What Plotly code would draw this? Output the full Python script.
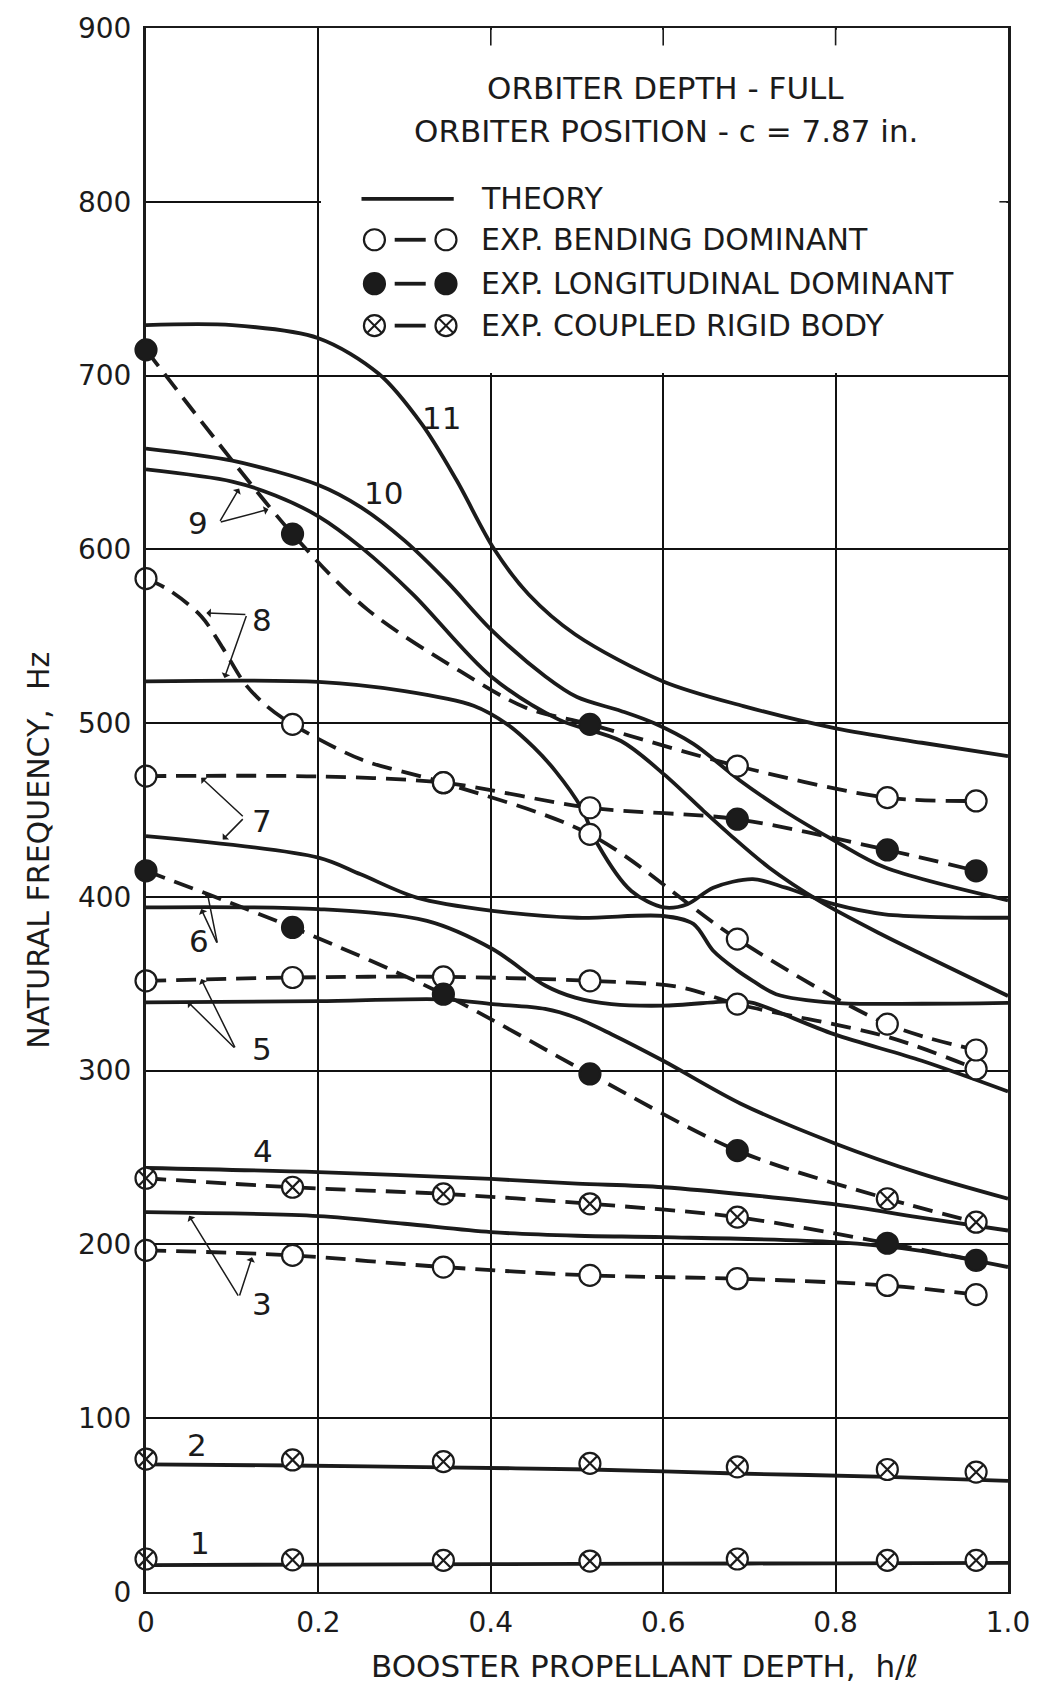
import plotly.graph_objects as go

FONT = "DejaVu Sans, Liberation Sans, sans-serif"
INK = "#1b1b1b"

# ---------------- axes ----------------
x_tick_vals = [0, 0.2, 0.4, 0.6, 0.8, 1.0]
x_tick_text = ["0", "0.2", "0.4", "0.6", "0.8", "1.0"]
y_tick_vals = [0, 100, 200, 300, 400, 500, 600, 700, 800, 900]

# ---------------- theory curves (solid) ----------------
theory_1_x = [0.0, 0.2, 0.4, 0.6, 0.8, 1.0]
theory_1_y = [15.5, 15.8, 16.0, 16.3, 16.5, 16.8]

theory_2_x = [0.0, 0.17, 0.345, 0.515, 0.685, 0.86, 1.0]
theory_2_y = [73.4, 72.8, 71.7, 70.5, 68.2, 66.3, 64.0]

theory_3_x = [0.0, 0.2, 0.3, 0.4, 0.5, 0.6, 0.8, 0.895, 1.0]
theory_3_y = [218.6, 216.3, 211.9, 207.1, 205.0, 204.2, 201.3, 196.6, 187.0]

theory_4_x = [0.0, 0.2, 0.4, 0.5, 0.6, 0.8, 0.895, 1.0]
theory_4_y = [244.0, 241.6, 237.7, 235.0, 232.9, 223.0, 215.7, 208.0]

theory_5_x = [0.0, 0.2, 0.345, 0.402, 0.463, 0.498, 0.54, 0.6, 0.69, 0.8, 0.9, 1.0]
theory_5_y = [339.3, 340.0, 341.0, 338.3, 335.5, 330.6, 321.0, 305.7, 281.0, 258.0, 240.6, 226.3]

theory_6_x = [0.0, 0.2, 0.326, 0.402, 0.463, 0.498, 0.54, 0.6, 0.685, 0.704, 0.798, 0.9, 1.0]
theory_6_y = [394.0, 393.0, 386.2, 370.0, 349.0, 342.0, 338.3, 337.4, 340.0, 339.0, 321.0, 305.7, 288.0]

theory_7_x = [0.0, 0.2, 0.249, 0.314, 0.402, 0.5, 0.6, 0.635, 0.658, 0.685, 0.704, 0.731, 0.8, 0.9, 1.0]
theory_7_y = [435.0, 422.6, 413.0, 399.6, 392.0, 388.0, 389.0, 384.5, 369.0, 358.0, 351.7, 344.0, 339.0, 338.5, 339.0]

theory_8_x = [0.0, 0.2, 0.3, 0.38, 0.42, 0.45, 0.475, 0.505, 0.524, 0.563, 0.601, 0.628,
              0.658, 0.704, 0.742, 0.798, 0.857, 1.0]
theory_8_y = [524.0, 523.7, 518.4, 510.0, 499.0, 486.0, 472.4, 451.3, 430.3, 403.4, 393.9, 395.8,
              405.3, 410.2, 405.3, 395.8, 390.0, 388.0]

theory_9_x = [0.0, 0.1, 0.15, 0.2, 0.25, 0.31, 0.4, 0.479, 0.551, 0.601, 0.647, 0.677, 0.723,
              0.781, 0.853, 0.9, 1.0]
theory_9_y = [646.0, 639.0, 631.0, 619.0, 601.0, 574.0, 527.0, 502.0, 489.7, 470.5, 449.4, 436.0,
              416.8, 397.7, 378.5, 367.0, 343.0]

theory_10_x = [0.0, 0.1, 0.2, 0.25, 0.3, 0.35, 0.4, 0.463, 0.5, 0.551, 0.589, 0.635, 0.689,
               0.742, 0.8, 0.857, 1.0]
theory_10_y = [658.0, 651.0, 637.0, 624.0, 605.0, 581.0, 554.0, 527.0, 515.0, 507.0, 500.0,
               488.0, 467.0, 449.0, 432.0, 417.0, 398.0]

theory_11_x = [0.0, 0.1, 0.2, 0.27, 0.32, 0.36, 0.404, 0.444, 0.498, 0.6, 0.693, 0.8, 0.9, 1.0]
theory_11_y = [729.0, 729.0, 721.5, 701.0, 672.0, 640.0, 600.0, 574.0, 551.0, 524.0, 509.8,
               497.0, 488.7, 481.0]

theory_curves = [
    (theory_1_x, theory_1_y), (theory_2_x, theory_2_y), (theory_3_x, theory_3_y),
    (theory_4_x, theory_4_y), (theory_5_x, theory_5_y), (theory_6_x, theory_6_y),
    (theory_7_x, theory_7_y), (theory_8_x, theory_8_y), (theory_9_x, theory_9_y),
    (theory_10_x, theory_10_y), (theory_11_x, theory_11_y),
]

# ---------------- experimental series (dashed) ----------------
# marker codes: "o" bending dominant, "f" longitudinal dominant,
# "x" coupled rigid body, "" = curve passes without a test point
exp_1_x = [0.0, 0.17, 0.345, 0.515, 0.686, 0.86, 0.963]
exp_1_y = [19.0, 18.5, 18.2, 17.8, 19.0, 18.2, 18.2]
exp_1_m = ["x", "x", "x", "x", "x", "x", "x"]

exp_2_x = [0.0, 0.17, 0.345, 0.515, 0.686, 0.86, 0.963]
exp_2_y = [76.5, 76.0, 75.0, 74.0, 72.0, 70.5, 69.0]
exp_2_m = ["x", "x", "x", "x", "x", "x", "x"]

exp_3_x = [0.0, 0.17, 0.345, 0.515, 0.686, 0.86, 0.963]
exp_3_y = [196.6, 193.7, 187.0, 182.2, 180.3, 176.4, 171.1]
exp_3_m = ["o", "o", "o", "o", "o", "o", "o"]

exp_4_x = [0.0, 0.17, 0.345, 0.515, 0.686, 0.86, 0.963]
exp_4_y = [238.1, 232.9, 229.1, 223.4, 215.7, 200.7, 190.8]
exp_4_m = ["x", "x", "x", "x", "x", "f", "f"]

exp_5_x = [0.0, 0.17, 0.345, 0.515, 0.62, 0.686, 0.86, 0.963]
exp_5_y = [351.7, 353.6, 354.0, 351.7, 348.0, 338.3, 319.5, 301.0]
exp_5_m = ["o", "o", "o", "o", "", "o", "", "o"]

exp_6_x = [0.0, 0.17, 0.345, 0.515, 0.686, 0.86, 0.963]
exp_6_y = [415.0, 382.4, 344.0, 298.1, 254.0, 226.3, 212.8]
exp_6_m = ["f", "f", "f", "f", "f", "x", "x"]

exp_7_x = [0.0, 0.2, 0.345, 0.515, 0.686, 0.86, 0.963]
exp_7_y = [469.5, 469.3, 465.7, 451.3, 444.7, 427.0, 415.0]
exp_7_m = ["o", "", "o", "o", "f", "f", "f"]

exp_8_x = [0.0, 0.0275, 0.064, 0.089, 0.115, 0.14, 0.17, 0.25, 0.345, 0.515, 0.686, 0.86, 0.963]
exp_8_y = [583.2, 576.3, 561.5, 543.3, 522.5, 509.8, 499.3, 479.0, 465.7, 436.0, 375.7, 326.8, 311.9]
exp_8_m = ["o", "", "", "", "", "", "o", "", "o", "o", "o", "o", "o"]

exp_9_x = [0.0, 0.17, 0.257, 0.364, 0.44, 0.515, 0.686, 0.86, 0.963]
exp_9_y = [714.8, 608.8, 565.3, 530.0, 509.0, 499.3, 475.3, 457.1, 455.2]
exp_9_m = ["f", "f", "", "", "", "f", "o", "o", "o"]

exp_series = [
    (exp_1_x, exp_1_y, exp_1_m), (exp_2_x, exp_2_y, exp_2_m), (exp_3_x, exp_3_y, exp_3_m),
    (exp_4_x, exp_4_y, exp_4_m), (exp_5_x, exp_5_y, exp_5_m), (exp_6_x, exp_6_y, exp_6_m),
    (exp_7_x, exp_7_y, exp_7_m), (exp_8_x, exp_8_y, exp_8_m), (exp_9_x, exp_9_y, exp_9_m),
]
# modes 1 and 2: test points lie on the theory line, no separate dashed fairing
exp_dashed = [False, False, True, True, True, True, True, True, True]

# ---------------- mode labels and leaders ----------------
mode_label_text = ["1", "2", "3", "4", "5", "6", "7", "8", "9", "10", "11"]
mode_label_x = [0.063, 0.059, 0.135, 0.136, 0.135, 0.062, 0.135, 0.135, 0.060, 0.276, 0.343]
mode_label_y = [28.0, 84.5, 166.0, 254.0, 312.5, 374.7, 443.7, 559.6, 615.0, 632.4, 675.5]

# (tail x, tail y, tip x, tip y)
leaders = [
    (0.085, 615.5, 0.108, 635.0), (0.085, 615.5, 0.142, 623.0),
    (0.117, 562.5, 0.070, 563.4), (0.117, 562.5, 0.091, 526.0),
    (0.114, 445.6, 0.064, 468.6), (0.114, 445.6, 0.089, 433.0),
    (0.083, 372.8, 0.071, 402.5), (0.083, 372.8, 0.064, 393.0),
    (0.104, 312.5, 0.064, 352.7), (0.104, 312.5, 0.0485, 339.6),
    (0.108, 169.7, 0.050, 216.5), (0.108, 169.7, 0.123, 192.7),
]

legend_labels = ["THEORY", "EXP. BENDING DOMINANT", "EXP. LONGITUDINAL DOMINANT",
                 "EXP. COUPLED RIGID BODY"]
legend_codes = ["line", "o", "f", "x"]
title_lines = ["ORBITER DEPTH - FULL", "ORBITER POSITION - c = 7.87 in."]

fig = go.Figure()

for tx, ty in theory_curves:
    fig.add_trace(go.Scatter(
        x=tx, y=ty, mode="lines", hoverinfo="skip", showlegend=False,
        line=dict(color=INK, width=3.8, shape="spline", smoothing=0.9)))

for (sx, sy, sm), dashed in zip(exp_series, exp_dashed):
    if not dashed:
        continue
    fig.add_trace(go.Scatter(
        x=sx, y=sy, mode="lines", hoverinfo="skip", showlegend=False,
        line=dict(color=INK, width=3.8, dash="20px,10px", shape="spline", smoothing=0.9)))

marker_style = {
    "o": dict(symbol="circle", color="white"),
    "f": dict(symbol="circle", color=INK),
    "x": dict(symbol="circle-x", color="white"),
}
for code, st in marker_style.items():
    xs, ys = [], []
    for sx, sy, sm in exp_series:
        for a, b, c in zip(sx, sy, sm):
            if c == code:
                xs.append(a)
                ys.append(b)
    fig.add_trace(go.Scatter(
        x=xs, y=ys, mode="markers", cliponaxis=False, showlegend=False,
        marker=dict(symbol=st["symbol"], size=21, color=st["color"],
                    line=dict(color=INK, width=2.2))))

# white panel behind the key (covers grid only)
fig.add_shape(type="rect", xref="x", yref="y", x0=0.203, x1=0.998, y0=701.5, y1=899,
              fillcolor="white", line=dict(width=0), layer="between")
for gx in [0.4, 0.6, 0.8]:
    fig.add_shape(type="line", xref="x", yref="y", x0=gx, x1=gx, y0=900, y1=890,
                  line=dict(color=INK, width=1.6), layer="between")
fig.add_shape(type="line", xref="x", yref="y", x0=0.99, x1=1.0, y0=800, y1=800,
              line=dict(color=INK, width=1.6), layer="between")

# key title
title_y = [0.9617, 0.9342]
for t, ty in zip(title_lines, title_y):
    fig.add_annotation(text=t, xref="paper", yref="paper", x=0.603, y=ty, showarrow=False,
                       font=dict(size=31, family=FONT, color=INK), xanchor="center", yanchor="middle")

# key entries
key_y = [0.8908, 0.8646, 0.8365, 0.8097]
for lab, code, ky in zip(legend_labels, legend_codes, key_y):
    fig.add_annotation(text=lab, xref="paper", yref="paper", x=0.386, y=ky, showarrow=False,
                       font=dict(size=30, family=FONT, color=INK), xanchor="left", yanchor="middle")
    if code == "line":
        fig.add_shape(type="line", xref="paper", yref="paper", x0=0.25, x1=0.357, y0=ky, y1=ky,
                      line=dict(color=INK, width=3.8))
        continue
    fig.add_shape(type="line", xref="paper", yref="paper", x0=0.2885, x1=0.3245, y0=ky, y1=ky,
                  line=dict(color=INK, width=3.8))
    for mx in [0.265, 0.348]:
        fill = INK if code == "f" else "white"
        fig.add_shape(type="circle", xref="paper", yref="paper", xsizemode="pixel",
                      ysizemode="pixel", xanchor=mx, yanchor=ky, x0=-10.5, x1=10.5,
                      y0=-10.5, y1=10.5, fillcolor=fill, line=dict(color=INK, width=2.2))
        if code == "x":
            fig.add_shape(type="path", xref="paper", yref="paper", xsizemode="pixel",
                          ysizemode="pixel", xanchor=mx, yanchor=ky,
                          path="M -7.4 -7.4 L 7.4 7.4 M -7.4 7.4 L 7.4 -7.4",
                          line=dict(color=INK, width=2.0))

# mode numbers
for t, lx, ly in zip(mode_label_text, mode_label_x, mode_label_y):
    fig.add_annotation(text=t, x=lx, y=ly, xref="x", yref="y", showarrow=False,
                       font=dict(size=31, family=FONT, color=INK))
for tx0, ty0, tx1, ty1 in leaders:
    fig.add_annotation(text="", x=tx1, y=ty1, ax=tx0, ay=ty0, xref="x", yref="y",
                       axref="x", ayref="y", showarrow=True, arrowhead=1, arrowsize=1,
                       arrowwidth=1.5, arrowcolor=INK, standoff=0, startstandoff=0)

# axis titles
fig.add_annotation(text="NATURAL FREQUENCY,  Hz", xref="paper", yref="paper", x=-0.124, y=0.474,
                   xanchor="center", yanchor="middle",
                   textangle=-90, showarrow=False, font=dict(size=30, family=FONT, color=INK))
fig.add_annotation(text="BOOSTER PROPELLANT DEPTH,  h/ℓ", xref="paper", yref="paper", x=0.578,
                   y=-0.0473, xanchor="center", yanchor="middle",
                   showarrow=False, font=dict(size=31, family=FONT, color=INK))

fig.update_layout(
    width=1042, height=1688, margin=dict(l=146, r=24, t=26, b=96),
    paper_bgcolor="white", plot_bgcolor="white", showlegend=False,
    font=dict(family=FONT, color=INK, size=26),
)
fig.update_xaxes(range=[0, 1], tickvals=x_tick_vals, ticktext=x_tick_text, showgrid=True,
                 gridcolor="#111111", gridwidth=1.6, showline=True, linecolor=INK, linewidth=2.4,
                 mirror=True, ticks="", zeroline=False, tickfont=dict(size=28),
                 ticklabelstandoff=4)
fig.update_yaxes(range=[0, 900], tickvals=y_tick_vals, showgrid=True, gridcolor="#111111",
                 gridwidth=1.6, showline=True, linecolor=INK, linewidth=3, mirror=True,
                 ticks="", zeroline=False, tickfont=dict(size=28), ticklabelstandoff=6)

fig.write_html("out.html")
